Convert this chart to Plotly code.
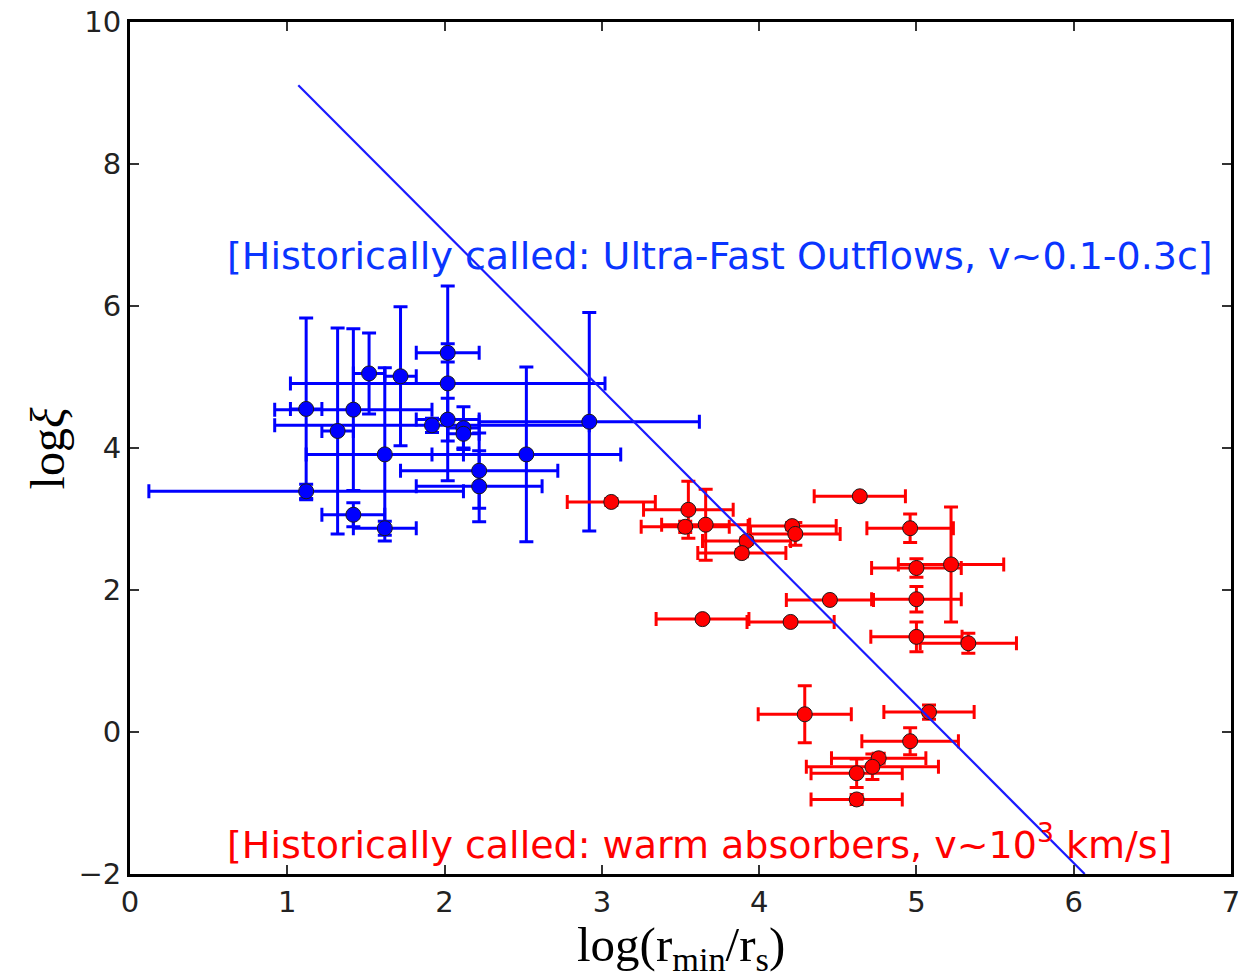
import plotly.graph_objects as go

# Ultra-fast outflow sample (blue)
ufo_x = [1.12, 1.12, 1.32, 1.42, 1.42, 1.52, 1.62, 1.62, 1.72, 1.92,
         2.02, 2.02, 2.02, 2.12, 2.12, 2.22, 2.22, 2.52, 2.92]
ufo_y = [4.55, 3.39, 4.24, 4.54, 3.06, 5.05, 3.91, 2.87, 5.01, 4.32,
         5.34, 4.91, 4.40, 4.28, 4.20, 3.68, 3.46, 3.91, 4.37]
ufo_xerr = [0.10, 1.00, 0.10, 0.50, 0.20, 0.10, 0.50, 0.20, 0.10, 1.00,
            0.20, 1.00, 0.20, 0.10, 0.10, 0.50, 0.40, 0.60, 0.70]
ufo_yerr = [1.28, 0.10, 1.45, 1.14, 0.17, 0.57, 1.22, 0.10, 0.98, 0.10,
            0.13, 1.37, 0.30, 0.30, 0.20, 0.53, 0.50, 1.23, 1.54]

# Warm absorber sample (red)
wa_x = [3.06, 3.55, 3.53, 3.66, 4.21, 4.23, 3.92, 3.89, 4.64, 4.96,
        5.22, 5.00, 4.45, 5.00, 3.64, 4.20, 5.00, 5.33, 4.29, 5.08,
        4.96, 4.76, 4.72, 4.62, 4.62]
wa_y = [3.24, 3.13, 2.89, 2.92, 2.90, 2.79, 2.69, 2.52, 3.32, 2.87,
        2.36, 2.31, 1.86, 1.87, 1.59, 1.55, 1.34, 1.25, 0.25, 0.28,
        -0.13, -0.37, -0.49, -0.58, -0.95]
wa_xerr = [0.28, 0.285, 0.28, 0.28, 0.28, 0.285, 0.28, 0.28, 0.29, 0.275,
           0.335, 0.285, 0.277, 0.285, 0.295, 0.277, 0.29, 0.306, 0.296, 0.287,
           0.307, 0.30, 0.42, 0.29, 0.29]
wa_yerr = [0.05, 0.40, 0.08, 0.50, 0.05, 0.16, 0.05, 0.05, 0.03, 0.20,
           0.81, 0.13, 0.03, 0.18, 0.03, 0.03, 0.21, 0.14, 0.40, 0.10,
           0.19, 0.07, 0.18, 0.20, 0.07]

# Dividing relation
line_x = [1.07, 6.07]
line_y = [9.11, -2.0]

x_ticks = [0, 1, 2, 3, 4, 5, 6, 7]
y_ticks = [-2, 0, 2, 4, 6, 8, 10]

BLUE = "#0000ff"
RED = "#ff0000"


def sample(x, y, xe, ye, color):
    return go.Scatter(
        x=x, y=y, mode="markers",
        marker=dict(size=15, color=color, line=dict(color="#1a1a1a", width=1)),
        error_x=dict(type="data", array=xe, visible=True, color=color,
                     thickness=3, width=7),
        error_y=dict(type="data", array=ye, visible=True, color=color,
                     thickness=3, width=7),
        showlegend=False, hoverinfo="skip",
    )


fig = go.Figure()
fig.add_trace(sample(ufo_x, ufo_y, ufo_xerr, ufo_yerr, BLUE))
fig.add_trace(sample(wa_x, wa_y, wa_xerr, wa_yerr, RED))
fig.add_trace(go.Scatter(x=line_x, y=line_y, mode="lines",
                         line=dict(color="#1a1aff", width=2.2),
                         showlegend=False, hoverinfo="skip"))

tick_font = dict(family="DejaVu Sans", size=29, color="#222222")
axis_common = dict(
    showgrid=False, zeroline=False, showline=True, linecolor="black",
    linewidth=3, mirror="ticks", ticks="inside", ticklen=9, tickwidth=1.5,
    tickcolor="#333333", tickfont=tick_font, automargin=False,
)

fig.update_layout(
    width=1253, height=978,
    margin=dict(l=130, r=22, t=22, b=104),
    paper_bgcolor="white", plot_bgcolor="white",
    xaxis=dict(range=[0, 7], tickvals=x_ticks, **axis_common),
    yaxis=dict(range=[-2, 10], tickvals=y_ticks, **axis_common),
)

serif = dict(family="Liberation Serif", size=49, color="black")
fig.add_annotation(xref="paper", yref="paper", x=0.5, y=-0.086,
                   text="log(r<sub>min</sub>/r<sub>s</sub>)",
                   showarrow=False, font=serif,
                   xanchor="center", yanchor="middle")
fig.add_annotation(xref="paper", yref="paper", x=-0.075, y=0.5,
                   text="log<i>ξ</i>", textangle=-90,
                   showarrow=False, font=dict(family="Liberation Serif", size=48, color="black"),
                   xanchor="center", yanchor="middle")

fig.add_annotation(x=0.607, y=6.70, xref="x", yref="y",
                   text="[Historically called: Ultra-Fast Outflows, v~0.1-0.3c]",
                   showarrow=False, xanchor="left", yanchor="middle",
                   font=dict(family="DejaVu Sans", size=38, color="#0a35ff"))
fig.add_annotation(x=0.607, y=-1.55, xref="x", yref="y",
                   text="[Historically called: warm absorbers, v~10<sup>3</sup> km/s]",
                   showarrow=False, xanchor="left", yanchor="middle",
                   font=dict(family="DejaVu Sans", size=38, color=RED))

fig.write_html("out.html")
